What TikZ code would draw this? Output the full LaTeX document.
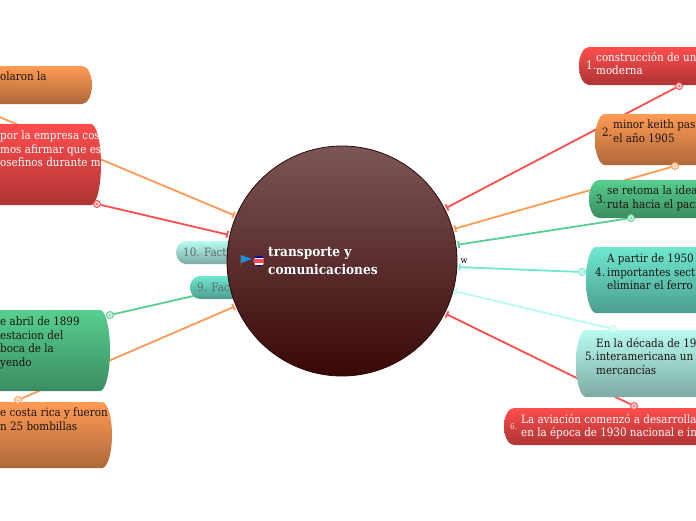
\documentclass[tikz,border=0pt]{standalone}
\usepackage{fontspec}
\setmainfont{DejaVu Serif}[FakeStretch=0.9]
\usetikzlibrary{calc,arrows.meta}
\definecolor{tred}{HTML}{FF4D4D}
\definecolor{torange}{HTML}{FF9A55}
\definecolor{tgreen}{HTML}{57CF8F}
\definecolor{tteal}{HTML}{6FE8D0}
\definecolor{tpale}{HTML}{B8FBF0}
\definecolor{ink}{HTML}{1A1410}
\definecolor{mutedgray}{HTML}{5F6B68}
\definecolor{hubtop}{HTML}{7C5656}
\definecolor{hubbot}{HTML}{3A0707}
\definecolor{hubline}{HTML}{2A0808}
\definecolor{flagblue}{HTML}{1E90D8}
\definecolor{flagpole}{HTML}{6B4A3A}
\pgfdeclarelayer{links}
\pgfdeclarelayer{boxes}
\pgfsetlayers{links,boxes,main}
\tikzset{
  topicbox/.style={rectangle,inner sep=0pt,outer sep=0pt},
  topictext/.style={anchor=north west,inner sep=0pt,align=left,text=#1,font=\fontsize{11.5}{13.5}\selectfont},
  numlabel/.style={anchor=west,inner sep=0pt,text=#1,font=\fontsize{11.5}{13.5}\selectfont},
  ringmark/.style={circle,draw=#1,fill=#1!25,line width=.9pt,minimum size=7pt,inner sep=0pt,
    path picture={\fill[#1] (path picture bounding box.center) circle (1);}},
  link/.style={line width=1.8pt,shorten >=1.5pt,-{Bar[width=7pt,length=1pt]}},
  plainlink/.style={line width=1.8pt}
}
\begin{document}
\begin{tikzpicture}[x=1pt,y=-1pt]
  \useasboundingbox (0,0) rectangle (696,520);
  % boxes: corners in pixels, the cut ones run past the page
  \foreach \nm/\xa/\ya/\xb/\yb/\tone in {
      b1/579/47/760/85/tred, b2/595/114/760/165/torange, b3/589/180/760/218/tgreen,
      b4/586/247/760/313/tteal, b5/576/330/760/397/tpale, b6/504/408/760/445/tred,
      ba/-40/66/92/104/torange, bb/-40/124/101/205/tred,
      bc/-40/310/110/391/tgreen, bd/-40/402/112/468/torange,
      fact10/176/241/240/264/tpale, fact9/190/276/250/299/tteal}{
    \node[topicbox,minimum width={\xb-\xa},minimum height={\yb-\ya}] (\nm)
      at ({(\xa+\xb)/2},{(\ya+\yb)/2}) {};
    \begin{pgfonlayer}{boxes}
      \shade[top color=\tone,bottom color=\tone!68!black]
        ($(\nm.north west)+(10,0)$) -- ($(\nm.north east)+(-10,0)$)
        .. controls ($(\nm.north east)+(-4.5,0)$) and ($(\nm.east)!.55!(\nm.north east)$) .. (\nm.east)
        .. controls ($(\nm.east)!.55!(\nm.south east)$) and ($(\nm.south east)+(-4.5,0)$) .. ($(\nm.south east)+(-10,0)$)
        -- ($(\nm.south west)+(10,0)$)
        .. controls ($(\nm.south west)+(4.5,0)$) and ($(\nm.west)!.55!(\nm.south west)$) .. (\nm.west)
        .. controls ($(\nm.west)!.55!(\nm.north west)$) and ($(\nm.north west)+(4.5,0)$) .. ($(\nm.north west)+(10,0)$)
        -- cycle;
    \end{pgfonlayer}
  }
  % the two short ones sit under the circle
  \node[numlabel=mutedgray] (lab10) at (183,252) {10. Fact};
  \node[numlabel=mutedgray] (lab9) at (197,287) {9. Fact};
  \node[circle,minimum size=230pt,inner sep=0pt,draw=hubline,line width=.8pt,
        top color=hubtop,bottom color=hubbot] (hub) at (342,261) {};
  \node[anchor=west,inner sep=0pt,align=left,text=white,
        font=\fontsize{13.5}{18}\selectfont\bfseries] (title) at (268,261) {transporte y\\comunicaciones};
  % flag and round badge
  \fill[flagpole] (240,255) rectangle (241,266);
  \fill[flagblue] (241,255) -- (252,259) -- (241,263) -- cycle;
  \begin{scope}
    \clip (259,261) circle (5.5);
    \fill[blue!70!black] (253,255) rectangle (265,267);
    \fill[white] (253,257.5) rectangle (265,264.5);
    \fill[tred] (253,259) rectangle (265,263);
  \end{scope}
  \node[anchor=center,inner sep=0pt,font=\fontsize{9}{11}\selectfont] (wlabel) at (464,261) {w};
  % right side texts
  \node[numlabel=white] (n1) at (586,65) {1.};
  \node[topictext=white] (t1) at (596,52) {construcción de un\\moderna};
  \node[numlabel=ink] (n2) at (602,132) {2.};
  \node[topictext=ink] (t2) at (613,120) {minor keith pas\\el año 1905};
  \node[numlabel=ink] (n3) at (596,199) {3.};
  \node[topictext=ink] (t3) at (607,186) {se retoma la idea\\ruta hacia el paci};
  \node[numlabel=ink] (n4) at (595,272) {4.};
  \node[topictext=ink] (t4) at (607,254) {A partir de 1950 e\\importantes sect\\eliminar el ferro};
  \node[numlabel=ink] (n5) at (585,356) {5.};
  \node[topictext=ink] (t5) at (596,338) {En la década de 193\\interamericana un\\mercancías};
  \node[numlabel=white!85!red,font=\fontsize{8}{10}\selectfont] (n6) at (510,427) {6.};
  \node[topictext=white] (t6) at (521,414) {La aviación comenzó a desarrolla\\en la época de 1930 nacional e in};
  % left side texts
  \node[topictext=ink] (ta) at (0,72) {olaron la};
  \node[topictext=white] (tb) at (0,131) {por la empresa cos\\mos afirmar que es\\osefinos durante m};
  \node[topictext=ink] (tc) at (0,317) {e abril de 1899\\estacion del\\boca de la\\yendo};
  \node[topictext=ink] (td) at (0,408) {e costa rica y fueron\\n 25 bombillas};
  % rings at the free ends
  \foreach \nm/\xx/\yy/\tone in {r1/679/86/tred, r2/675/166/torange, r3/631/218/tgreen,
      r4/582/272/tteal, r5/613/329/tpale, r6/634/406/tred,
      rb/97/204/tred, rc/110/315/tgreen, rd/18/400/torange}
    \node[ringmark=\tone] (\nm) at (\xx,\yy) {};
  \coordinate (ra) at (-10,113);
  \begin{pgfonlayer}{links}
    \foreach \nm/\ang/\tone in {r1/27.7/tred, r2/16/torange, r3/8.4/tgreen, r4/357.5/tteal,
        r5/345.6/tpale, r6/333.7/tred, ra/157/torange, rb/167/tred, rd/203/torange}
      \draw[link,\tone] (\nm) -- (hub.\ang);
    \draw[plainlink,tgreen] (rc) -- ($(fact9.south west)+(12,-5)$);
  \end{pgfonlayer}
\end{tikzpicture}
\end{document}
